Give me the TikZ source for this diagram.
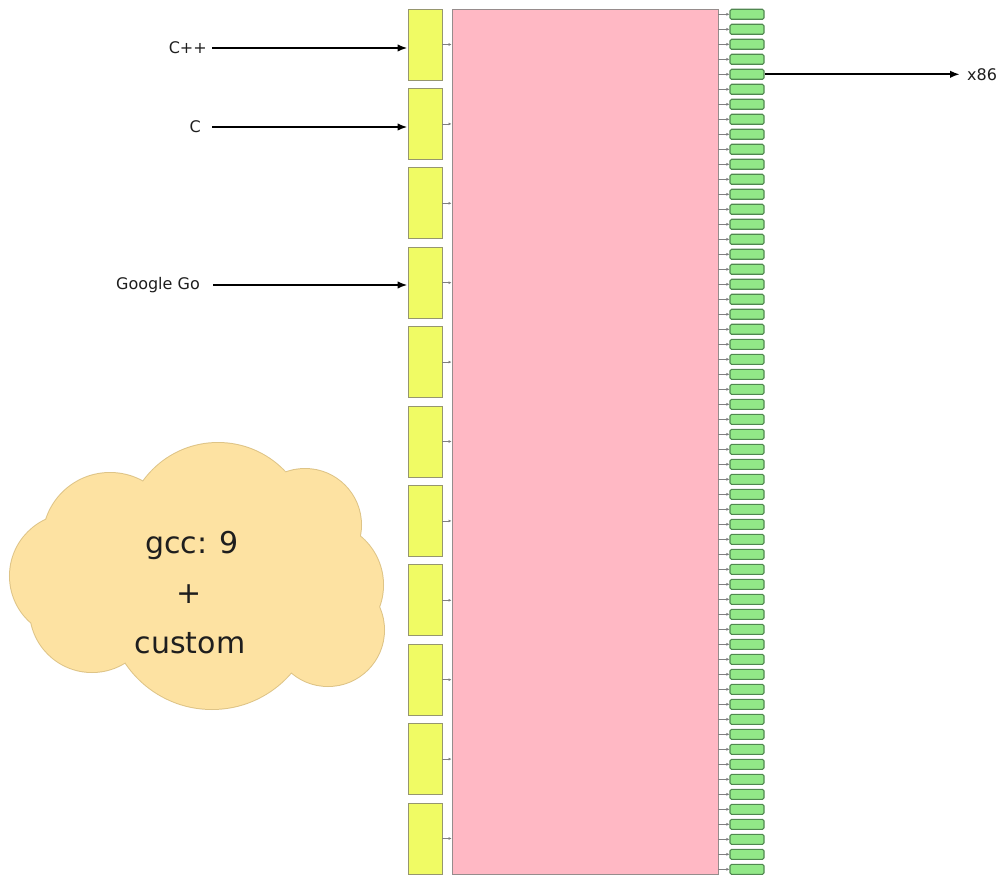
\documentclass[tikz,border=0pt]{standalone}
\usepackage{fontspec}
\setmainfont{DejaVu Sans}
\usetikzlibrary{arrows.meta}

\definecolor{padfill}{RGB}{240,251,100}
\definecolor{paddraw}{RGB}{150,150,110}
\definecolor{corefill}{RGB}{255,184,196}
\definecolor{coredraw}{RGB}{150,140,140}
\definecolor{pinfill}{RGB}{146,232,136}
\definecolor{pindraw}{RGB}{80,135,80}
\definecolor{cloudfill}{RGB}{253,226,162}
\definecolor{clouddraw}{RGB}{222,196,135}
\definecolor{ink}{RGB}{30,30,30}

\begin{document}
\begin{tikzpicture}[x=1pt,y=-1pt,
  padbox/.style={draw=paddraw,fill=padfill,line width=0.9pt,inner sep=0pt,
                 minimum width=34pt,minimum height=71pt},
  corebox/.style={draw=coredraw,fill=corefill,line width=0.9pt,inner sep=0pt,
                  minimum width=266pt,minimum height=865pt},
  pinbox/.style={draw=pindraw,fill=pinfill,line width=1.1pt,inner sep=0pt,
                 rounded corners=1.5pt,minimum width=34pt,minimum height=10pt},
  tick/.style={draw=gray,line width=0.7pt,-{Latex[length=3pt,width=3pt]}},
  feed/.style={draw=black,line width=2pt,-{Latex[length=10pt,width=7.5pt]}},
  lab/.style={font=\fontsize{16}{18}\selectfont,text=ink,inner sep=0pt},
  cloudtext/.style={font=\fontsize{30}{36}\selectfont,text=ink,inner sep=0pt,anchor=base}]

\useasboundingbox (0,0) rectangle (1004,877);

% central block
\node[corebox] (core) at (585,441.5) {};

% input pads on the left
\foreach \i in {0,...,10}{
  \node[padbox] (y\i) at (425,{44.5+79.4*\i}) {};
  \draw[tick] (y\i.east) -- (y\i.east -| core.west);
}

% output pins on the right
\foreach \i in {0,...,57}{
  \node[pinbox] (g\i) at (747,{14.3+15*\i}) {};
  \draw[tick] (g\i.west -| core.east) -- (g\i.west);
}

% front-end languages
\node[lab,anchor=east] (cpp) at (207,48) {C++};
\node[lab,anchor=east] (c) at (201,127) {C};
\node[lab,anchor=east] (go) at (200,285) {Google Go};
\draw[feed,line width=2.6pt] ([xshift=5pt]cpp.east) -- (cpp -| y0.west);
\draw[feed] ([xshift=11pt]c.east) -- (c -| y1.west);
\draw[feed] ([xshift=13pt]go.east) -- (go -| y3.west);

% target
\node[lab,anchor=west] (x86) at (967,74.3) {x86};
\draw[feed] (g4.east) -- ([xshift=-7pt]x86.west |- g4.east);

% cloud of front ends
\begin{scope}
  \def\puffs{(218,535) circle[radius=92] (110,540) circle[radius=67]
    (72,576) circle[radius=62] (92,610) circle[radius=62]
    (212,605) circle[radius=104] (328,630) circle[radius=56]
    (320,585) circle[radius=63] (305,525) circle[radius=56]}
  \draw[clouddraw,line width=2pt] \puffs;
  \fill[cloudfill] \puffs;
\end{scope}
\node[cloudtext] (gcc) at (192,553) {gcc: 9};
\node[cloudtext] (plus) at (189,603) {+};
\node[cloudtext] (custom) at (190,653) {custom};

\end{tikzpicture}
\end{document}
